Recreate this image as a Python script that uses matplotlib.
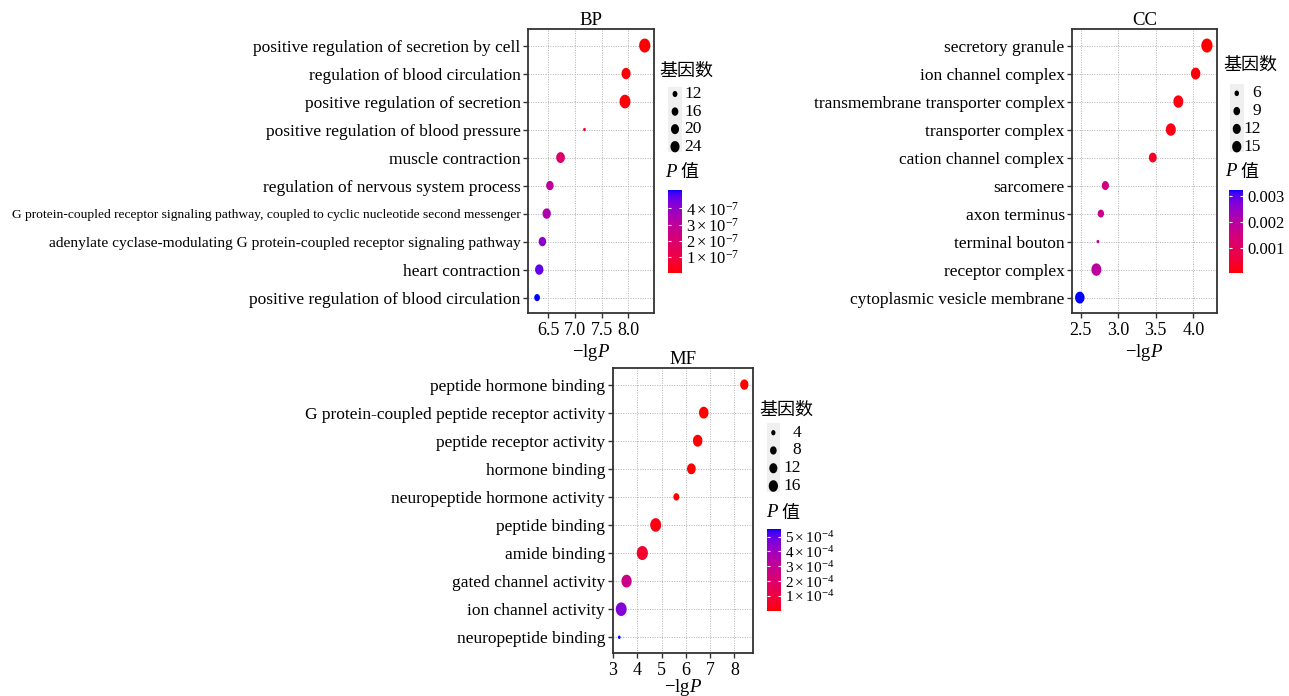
import numpy as np
import matplotlib
matplotlib.use("Agg")
import matplotlib.pyplot as plt
from matplotlib.colors import ListedColormap, Normalize
from matplotlib.cm import ScalarMappable
from matplotlib.path import Path

plt.rcParams['font.family'] = ['Liberation Serif', 'DejaVu Serif']
plt.rcParams['mathtext.fontset'] = 'custom'
plt.rcParams['mathtext.rm'] = 'Liberation Serif'
plt.rcParams['mathtext.it'] = 'Liberation Serif:italic'
plt.rcParams['mathtext.bf'] = 'Liberation Serif:bold'

# ---------------- data ----------------
bp_terms = [
    "positive regulation of secretion by cell",
    "regulation of blood circulation",
    "positive regulation of secretion",
    "positive regulation of blood pressure",
    "muscle contraction",
    "regulation of nervous system process",
    "G protein-coupled receptor signaling pathway, coupled to cyclic nucleotide second messenger",
    "adenylate cyclase-modulating G protein-coupled receptor signaling pathway",
    "heart contraction",
    "positive regulation of blood circulation",
]
bp_lgp = [8.31, 7.96, 7.94, 7.18, 6.73, 6.53, 6.47, 6.39, 6.33, 6.29]
bp_count = [26, 19, 25, 10, 18, 15, 17, 15, 17, 12]

cc_terms = [
    "secretory granule",
    "ion channel complex",
    "transmembrane transporter complex",
    "transporter complex",
    "cation channel complex",
    "sarcomere",
    "axon terminus",
    "terminal bouton",
    "receptor complex",
    "cytoplasmic vesicle membrane",
]
cc_lgp = [4.18, 4.03, 3.80, 3.70, 3.46, 2.83, 2.77, 2.73, 2.71, 2.49]
cc_count = [16, 12, 13, 13, 9, 8, 7, 5, 13, 12]

mf_terms = [
    "peptide hormone binding",
    "G protein-coupled peptide receptor activity",
    "peptide receptor activity",
    "hormone binding",
    "neuropeptide hormone activity",
    "peptide binding",
    "amide binding",
    "gated channel activity",
    "ion channel activity",
    "neuropeptide binding",
]
mf_lgp = [8.41, 6.74, 6.49, 6.23, 5.61, 4.76, 4.21, 3.56, 3.34, 3.26]
mf_count = [9, 12, 12, 10, 5, 16, 17, 14, 16, 3]

bp_xticks = [6.5, 7.0, 7.5, 8.0]
bp_xticklabels = ['6.5', '7.0', '7.5', '8.0']
cc_xticks = [2.5, 3.0, 3.5, 4.0]
cc_xticklabels = ['2.5', '3.0', '3.5', '4.0']
mf_xticks = [3, 4, 5, 6, 7, 8]
mf_xticklabels = ['3', '4', '5', '6', '7', '8']

bp_size_breaks = [12, 16, 20, 24]
cc_size_breaks = [6, 9, 12, 15]
mf_size_breaks = [4, 8, 12, 16]

bp_p_ticks = [1e-7, 2e-7, 3e-7, 4e-7]
bp_p_labels = [r'$1\times10^{-7}$', r'$2\times10^{-7}$', r'$3\times10^{-7}$', r'$4\times10^{-7}$']
cc_p_ticks = [0.001, 0.002, 0.003]
cc_p_labels = ['0.001', '0.002', '0.003']
mf_p_ticks = [1e-4, 2e-4, 3e-4, 4e-4, 5e-4]
mf_p_labels = [r'$1\times10^{-4}$', r'$2\times10^{-4}$', r'$3\times10^{-4}$',
               r'$4\times10^{-4}$', r'$5\times10^{-4}$']

# ---------------- colour map: red -> blue interpolated in CIE Lab ----------------
_M = np.array([[0.4124, 0.3576, 0.1805],
               [0.2126, 0.7152, 0.0722],
               [0.0193, 0.1192, 0.9505]])
_W = np.array([0.95047, 1.0, 1.08883])


def _to_lab(rgb):
    c = np.asarray(rgb, float)
    lin = np.where(c <= 0.04045, c / 12.92, ((c + 0.055) / 1.055) ** 2.4)
    xyz = _M @ lin / _W
    f = np.where(xyz > 0.008856, np.cbrt(xyz), 7.787 * xyz + 16 / 116)
    return np.array([116 * f[1] - 16, 500 * (f[0] - f[1]), 200 * (f[1] - f[2])])


def _to_rgb(lab):
    L, a, b = lab
    fy_ = (L + 16) / 116
    f = np.array([fy_ + a / 500, fy_, fy_ - b / 200])
    xyz = np.where(f ** 3 > 0.008856, f ** 3, (f - 16 / 116) / 7.787) * _W
    lin = np.clip(np.linalg.inv(_M) @ xyz, 0, 1)
    rgb = np.where(lin <= 0.0031308, 12.92 * lin, 1.055 * lin ** (1 / 2.4) - 0.055)
    return np.clip(rgb, 0, 1)


lab0 = _to_lab([1, 0, 0])
lab1 = _to_lab([0, 0, 1])
cmap = ListedColormap([_to_rgb(lab0 + (lab1 - lab0) * t) for t in np.linspace(0, 1, 256)])

# slightly narrow ellipse marker (the reference points are taller than wide)
_t = np.linspace(0, 2 * np.pi, 64)
ELLIPSE = Path(np.column_stack([0.8 * np.cos(_t), np.sin(_t)]), closed=True)

# ---------------- figure ----------------
W, H = 1289, 696
DPI = 100
fig = plt.figure(figsize=(W / DPI, H / DPI), dpi=DPI)
fig.patch.set_facecolor('white')

DARK = '#333333'


def px_axes(l, t, r, b):
    return fig.add_axes([l / W, 1 - b / H, (r - l) / W, (b - t) / H])


def diam_px(c, cmin, cmax, dmin=3.4, dmax=14.0):
    c = np.asarray(c, float)
    return dmin + (dmax - dmin) * np.sqrt(np.clip((c - cmin) / (cmax - cmin), 0, 1))


def area(d_px):
    return (np.asarray(d_px) * 72.0 / DPI) ** 2


def fx(x):
    return x / W


def fy(y):
    return 1 - y / H


def label_size(text):
    # the longest GO terms are set in a condensed size in the reference
    n = len(text)
    if n > 80:
        return 9.7
    if n > 60:
        return 11.1
    return 12.5


def panel(terms, lgp, count, box, xlim, xticks, xticklabels, title, leg, size_breaks,
          p_ticks, p_labels, cb_fs, xlabelpad):
    lgp = np.asarray(lgp, float)
    count = np.asarray(count, float)
    p = 10.0 ** (-lgp)
    norm = Normalize(p.min(), p.max())
    cmin, cmax = count.min(), count.max()

    ax = px_axes(*box)
    y = np.arange(len(terms))
    ax.scatter(lgp, y, s=area(diam_px(count, cmin, cmax)), c=p, cmap=cmap,
               norm=norm, marker=ELLIPSE, edgecolors='none', zorder=3)
    ax.set_xlim(*xlim)
    ax.set_ylim(len(terms) - 1 + 0.55, -0.58)
    ax.set_yticks(y)
    ax.set_yticklabels(terms, fontsize=12.5)
    for lbl in ax.get_yticklabels():
        lbl.set_fontsize(label_size(lbl.get_text()))
    ax.set_xticks(xticks)
    ax.set_xticklabels(xticklabels, fontsize=13)
    ax.grid(True, linestyle=(0, (1, 1.5)), color='#b0b0b0', linewidth=0.7, zorder=0)
    ax.set_axisbelow(True)
    for s in ax.spines.values():
        s.set_color(DARK)
        s.set_linewidth(1.3)
    ax.tick_params(direction='out', length=3.5, width=1.0, color=DARK, pad=2,
                   labelcolor='black')
    ax.tick_params(axis='x', pad=3)
    ax.set_title(title, fontsize=13.5, pad=1.5)
    ax.set_xlabel(r'$-\mathrm{lg}P$', fontsize=13.5, labelpad=xlabelpad)

    # ---- size legend ----
    tx, ty = leg['title']
    fig.text(fx(tx), fy(ty), '基因数', family=['Noto Sans CJK SC'], fontsize=13,
             ha='left', va='center')
    kl, kt, kr, kb = leg['key']
    kax = px_axes(kl, kt, kr, kb)
    kax.set_facecolor('#efefef')
    kax.set_xlim(kl, kr)
    kax.set_ylim(kb, kt)
    for s in kax.spines.values():
        s.set_visible(False)
    kax.set_xticks([])
    kax.set_yticks([])
    ky = np.linspace(leg['dots'][0], leg['dots'][1], len(size_breaks))
    kx = np.full(len(size_breaks), (kl + kr) / 2)
    kax.scatter(kx, ky, s=area(0.85 * diam_px(size_breaks, cmin, cmax)), c='black',
                marker=ELLIPSE, edgecolors='none', clip_on=False)
    for v, yy in zip(size_breaks, ky):
        fig.text(fx(leg['lab_r']), fy(yy), str(v), fontsize=12.5, ha='right', va='center')

    # ---- P legend ----
    px_, py_ = leg['ptitle']
    fig.text(fx(px_), fy(py_), 'P', style='italic', fontsize=13.5, ha='left', va='center')
    fig.text(fx(px_ + 15), fy(py_), '值', family=['Noto Sans CJK SC'], fontsize=13,
             ha='left', va='center')
    cax = px_axes(*leg['cbar'])
    sm = ScalarMappable(norm=norm, cmap=cmap)
    cb = fig.colorbar(sm, cax=cax, ticks=p_ticks)
    cb.outline.set_visible(False)
    cax.set_yticklabels(p_labels, fontsize=cb_fs)
    cax.tick_params(direction='in', length=2.5, width=0.8, color='white',
                    left=True, right=True, pad=3)
    return ax


panel(bp_terms, bp_lgp, bp_count, (528.3, 29.3, 654.3, 313), (6.125, 8.49),
      bp_xticks, bp_xticklabels, 'BP',
      dict(title=(659, 71), key=(668, 87, 682, 152), dots=(94, 146.7), lab_r=702,
           ptitle=(665, 172.5), cbar=(668.3, 190, 681.7, 272.7)),
      bp_size_breaks, bp_p_ticks, bp_p_labels, 12, 2)

panel(cc_terms, cc_lgp, cc_count, (1072.3, 29.3, 1216.7, 313), (2.39, 4.31),
      cc_xticks, cc_xticklabels, 'CC',
      dict(title=(1223, 65), key=(1230, 83.5, 1243.5, 151.7), dots=(93.3, 146.7), lab_r=1261,
           ptitle=(1225, 171.7), cbar=(1229.3, 190, 1243.3, 272.7)),
      cc_size_breaks, cc_p_ticks, cc_p_labels, 12, 2)

panel(mf_terms, mf_lgp, mf_count, (612.7, 368.3, 753.3, 652.7), (2.99, 8.78),
      mf_xticks, mf_xticklabels, 'MF',
      dict(title=(759, 409.7), key=(766.7, 423.3, 780, 491.7), dots=(432.7, 486), lab_r=801,
           ptitle=(766, 512.7), cbar=(766.7, 529.3, 780.7, 610.7)),
      mf_size_breaks, mf_p_ticks, mf_p_labels, 11, -1)

fig.savefig('out.png', dpi=DPI)
